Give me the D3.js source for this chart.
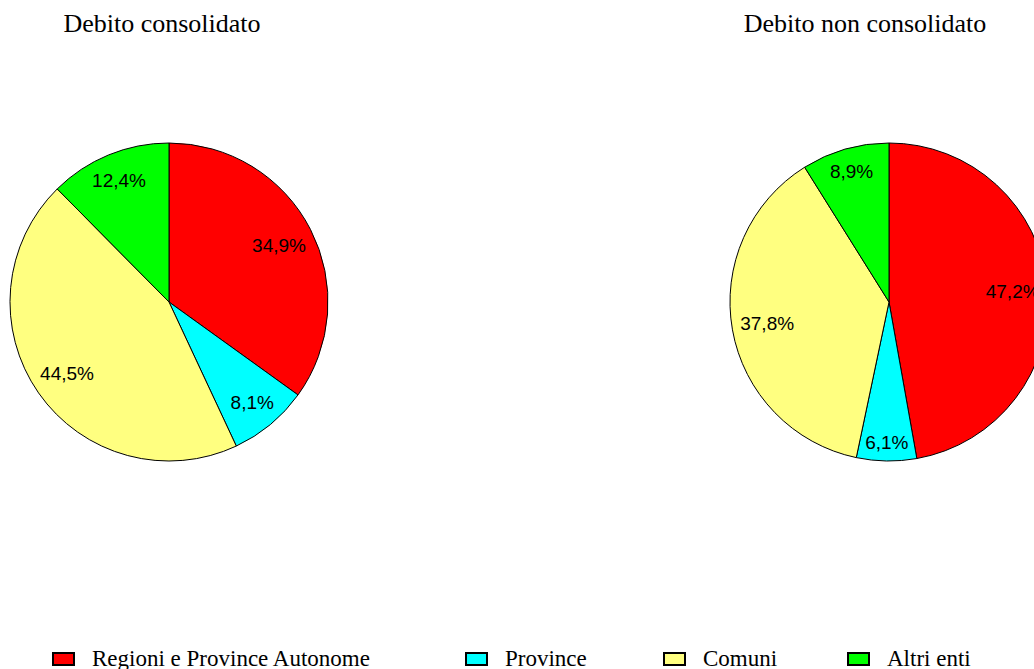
<!DOCTYPE html>
<html>
<head>
<meta charset="utf-8">
<script src="https://cdn.jsdelivr.net/npm/d3@7.9.0/dist/d3.min.js"></script>
<style>
  body { margin: 0; background: #fff; overflow: hidden; }
  svg { display: block; }
  .title { font-family: "Liberation Serif", "Times New Roman", serif; font-size: 26px; }
  .pct { font-family: "Liberation Sans", Arial, sans-serif; font-size: 19px; }
  .legend text { font-family: "Liberation Serif", "Times New Roman", serif; font-size: 23px; }
</style>
</head>
<body>
<svg width="1034" height="669"></svg>
<script>
const categories = ['Regioni e Province Autonome', 'Province', 'Comuni', 'Altri enti'];
const consolidato = [34.9, 8.1, 44.5, 12.4];
const nonConsolidato = [47.2, 6.1, 37.8, 8.9];
const titles = ['Debito consolidato', 'Debito non consolidato'];
const sliceColors = ['#ff0000', '#00ffff', '#ffff80', '#00ff00'];

const svg = d3.select('svg');
const radius = 159;
let color = d3.scaleOrdinal().domain(categories).range(sliceColors);
let arcGenerator = d3.arc().innerRadius(0).outerRadius(radius);
let pie = d3.pie().sort(null).value((d) => d.value);

const charts = [
  { title: titles[0], values: consolidato, cx: 169, titleX: 162 },
  { title: titles[1], values: nonConsolidato, cx: 889, titleX: 865 },
];

const fmt = (v) => v.toFixed(1).replace('.', ',') + '%';

charts.forEach((chart) => {
  svg.append('text')
    .attr('class', 'title')
    .attr('x', chart.titleX)
    .attr('y', 32)
    .attr('text-anchor', 'middle')
    .text(chart.title);

  let data = categories.map((c, i) => ({ label: c, value: chart.values[i] }));
  let arcs = pie(data);
  let g = svg.append('g').attr('transform', `translate(${chart.cx},302)`);

  g.selectAll('path')
    .data(arcs)
    .join('path')
    .attr('d', arcGenerator)
    .attr('fill', (d) => color(d.data.label))
    .attr('stroke', '#000')
    .attr('stroke-width', 1);

  // labels sit inside the slice, near the outer edge
  arcs.forEach((d) => {
    let t = g.append('text')
      .attr('class', 'pct')
      .attr('text-anchor', 'middle')
      .attr('dominant-baseline', 'central')
      .text(fmt(d.data.value));
    let w = t.node().getComputedTextLength();
    let hw = w / 2, hh = 9.5;
    let a = (d.startAngle + d.endAngle) / 2;
    let ux = Math.sin(a), uy = -Math.cos(a);
    let sx = Math.sign(ux) * hw, sy = Math.sign(uy) * hh;
    let R = radius - 7;
    let b = ux * sx + uy * sy;
    let dist = -b + Math.sqrt(b * b - (sx * sx + sy * sy - R * R));
    t.attr('x', dist * ux).attr('y', dist * uy);
  });
});

const legendX = [52, 465, 663, 847];
let legend = svg.append('g').attr('class', 'legend');
categories.forEach((c, i) => {
  legend.append('rect')
    .attr('x', legendX[i] + 1)
    .attr('y', 653)
    .attr('width', 21)
    .attr('height', 12)
    .attr('fill', color(c))
    .attr('stroke', '#000')
    .attr('stroke-width', 2);
  legend.append('text')
    .attr('x', legendX[i] + 40)
    .attr('y', 665.5)
    .text(c);
});
</script>
</body>
</html>
